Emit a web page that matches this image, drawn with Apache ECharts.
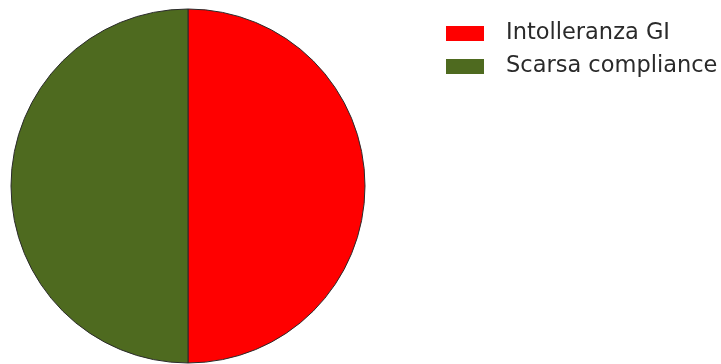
<!DOCTYPE html>
<html>
<head>
<meta charset="utf-8">
<script src="https://cdn.jsdelivr.net/npm/echarts@6/dist/echarts.min.js"></script>
<style>
  html, body { margin: 0; padding: 0; background: #fff; }
  #chart { width: 721px; height: 364px; }
</style>
</head>
<body>
<div id="chart"></div>
<script>
const categories = ['Intolleranza GI', 'Scarsa compliance'];
const values = [1, 1];
const colors = ['#ff0000', '#4e6a1f'];

const chart = echarts.init(document.getElementById('chart'));

chart.setOption({
  animation: false,
  color: colors,
  legend: {
    orient: 'vertical',
    left: 441,
    top: 17,
    itemWidth: 38,
    itemHeight: 15,
    itemGap: 10,
    icon: 'rect',
    itemStyle: { borderWidth: 0 },
    textStyle: {
      fontFamily: 'DejaVu Sans',
      fontSize: 22.5,
      lineHeight: 22,
      padding: [0, 0, 0, 17],
      color: '#2a2a2a'
    },
    data: categories
  },
  series: [{
    type: 'pie',
    center: [188, 186],
    radius: 177,
    startAngle: 90,
    label: { show: false },
    labelLine: { show: false },
    itemStyle: { borderColor: '#2a2a2a', borderWidth: 1 },
    emphasis: { disabled: true },
    data: categories.map((name, i) => ({ name, value: values[i] }))
  }]
});
</script>
</body>
</html>
